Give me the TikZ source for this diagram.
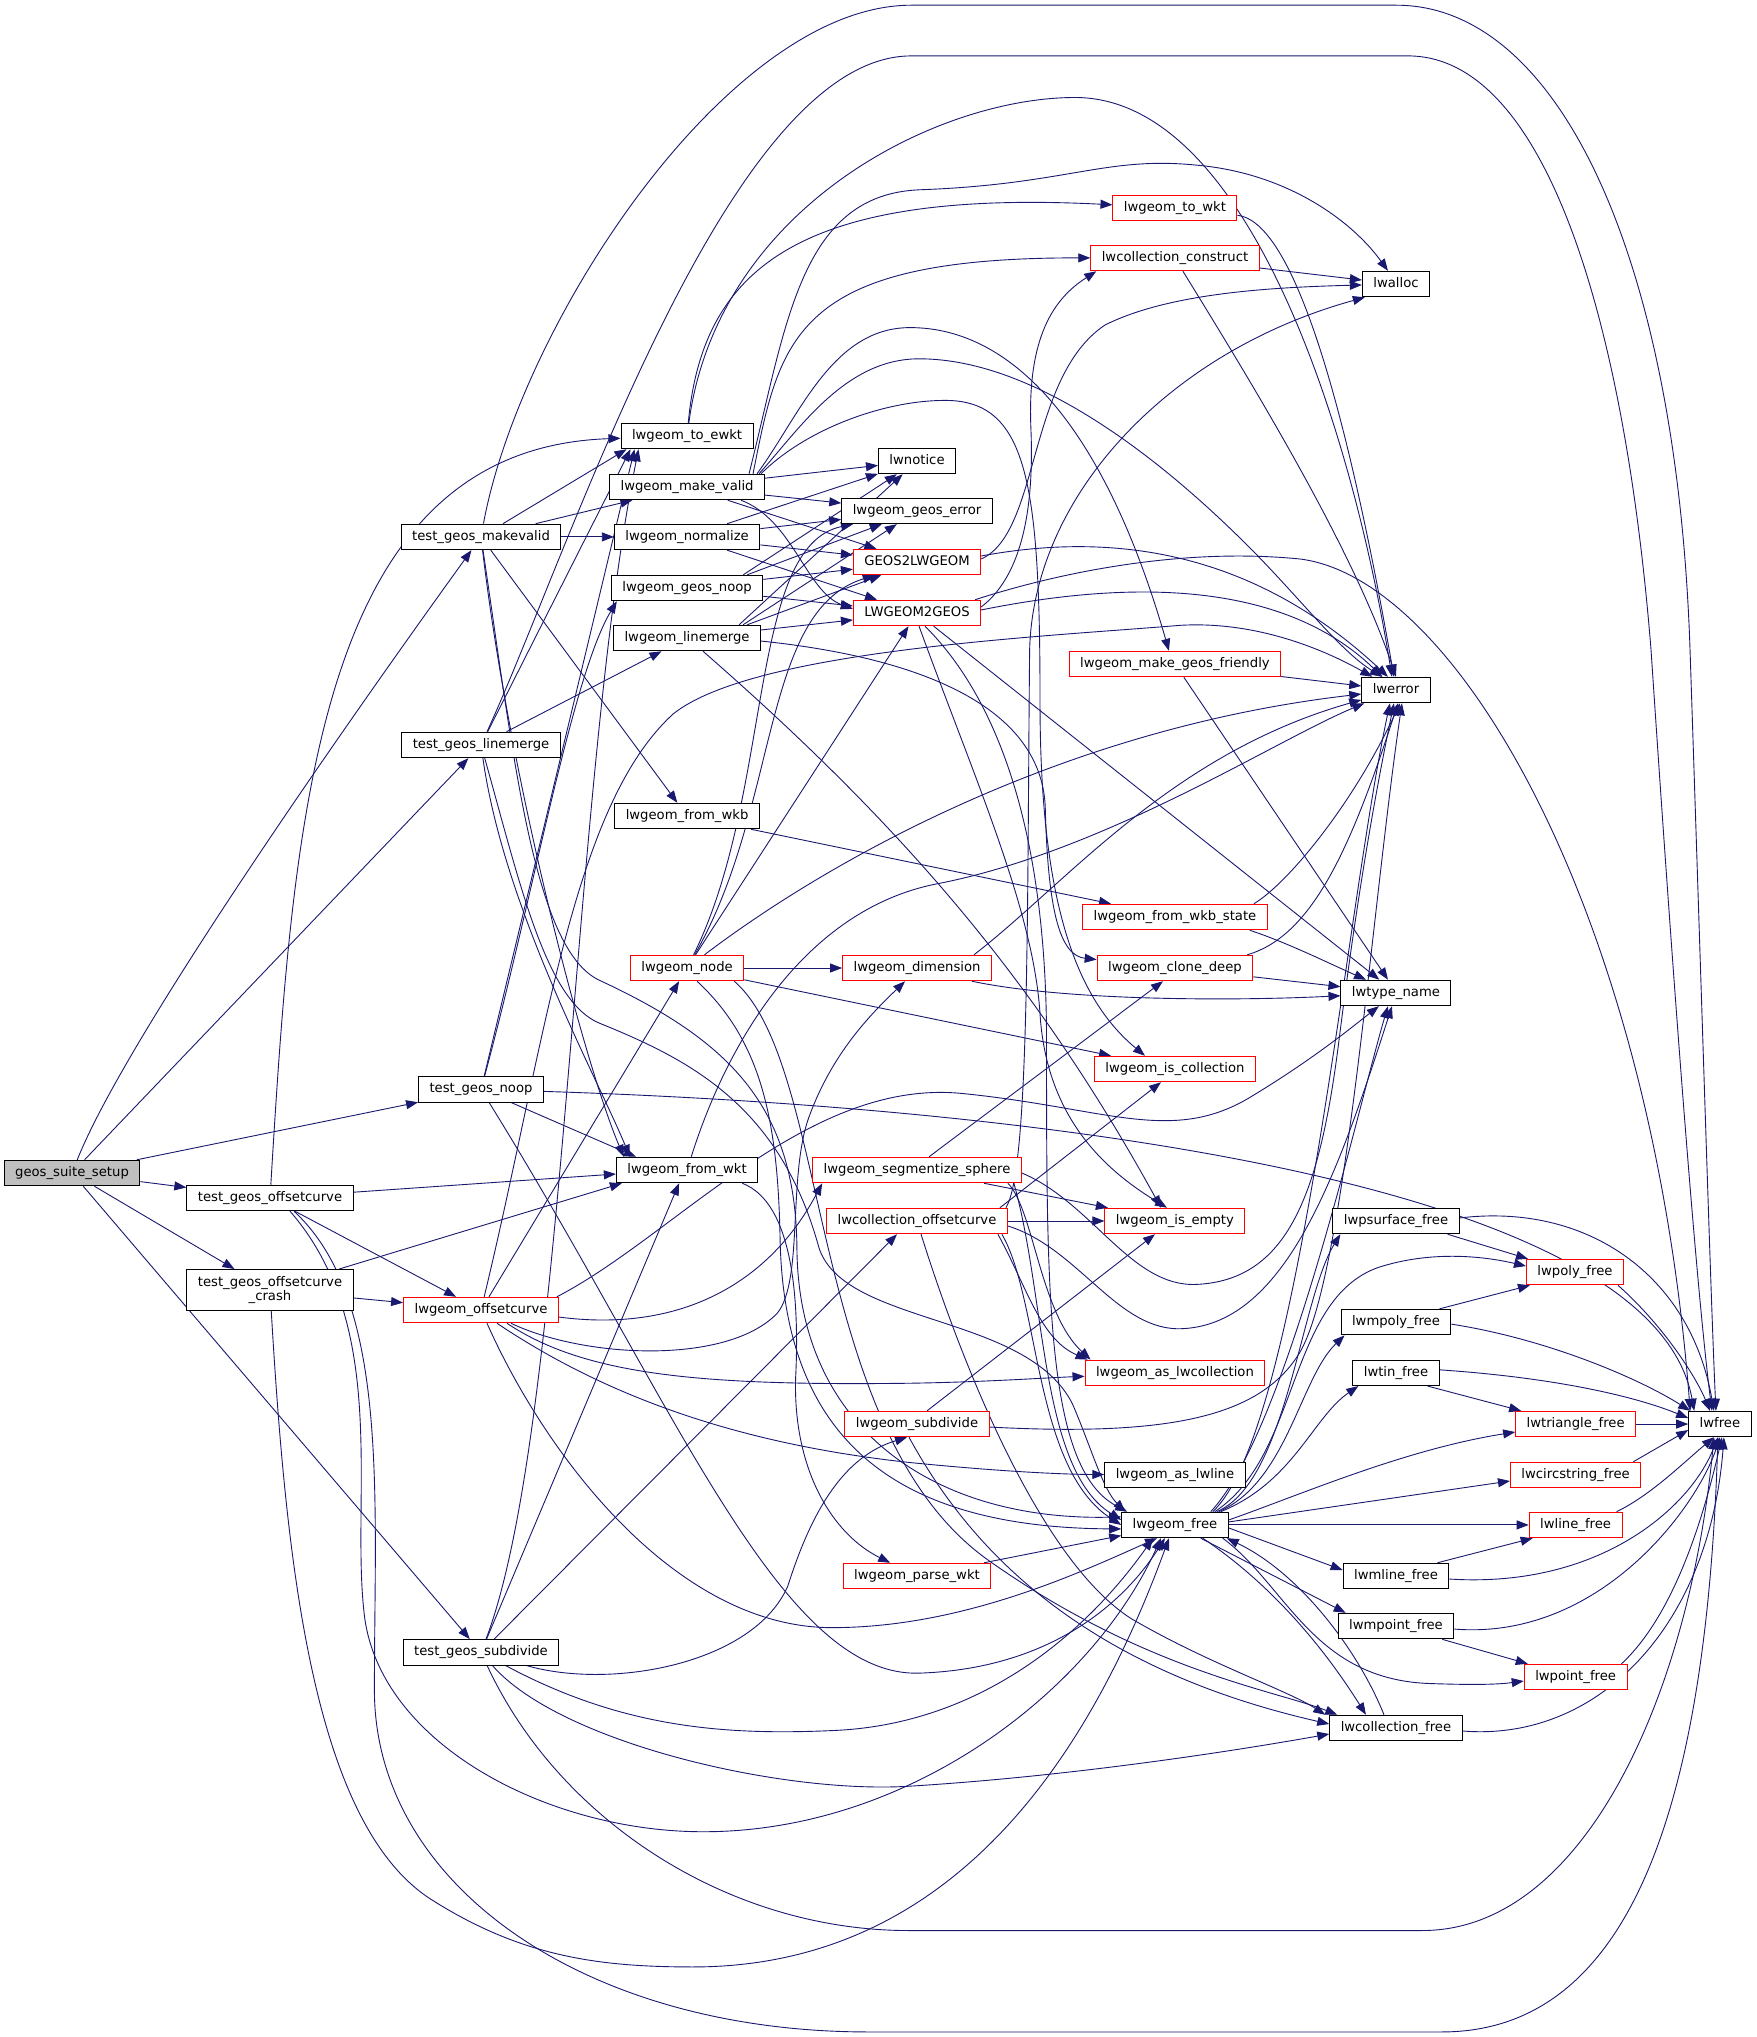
\documentclass[tikz,border=0pt]{standalone}
\usepackage{fontspec}
\setmainfont{DejaVu Sans}
\usetikzlibrary{arrows.meta}
\definecolor{edgecol}{HTML}{191970}
\definecolor{redb}{HTML}{FF0000}
\definecolor{grayfill}{HTML}{BFBFBF}
\pgfdeclarelayer{back}
\pgfdeclarelayer{edges}
\pgfsetlayers{back,edges,main}
\tikzset{
 nb/.style={draw=black, line width=1pt, fill=white, font=\fontsize{13.2}{15.8}\selectfont, inner xsep=11pt, inner ysep=0pt, minimum height=25.5pt, text height=10pt, text depth=3.2pt},
 rb/.style={nb, draw=redb},
 nbtwo/.style={draw=black, line width=1pt, fill=white, font=\fontsize{13.2}{14.5}\selectfont, inner xsep=11pt, inner ysep=3pt, minimum height=41pt, align=center},
 edg/.style={draw=edgecol, line width=0.9pt, -{Triangle[length=12pt,width=9pt]}},
}
\begin{document}
\begin{tikzpicture}[x=1.3pt,y=-1.3pt]
\useasboundingbox (0,0) rectangle (1351.5,1566.9);
\begin{pgfonlayer}{back}
\fill[white] (0,0) rectangle (1351.5,1566.9);
\end{pgfonlayer}
% nodes
\node[nb, fill=grayfill] (G) at (55.4,902.3) {geos\_suite\_setup};
\node[nb] (tmv) at (370,413) {test\_geos\_makevalid};
\node[nb] (tlm) at (370,573) {test\_geos\_linemerge};
\node[nb] (tnoop) at (370,838) {test\_geos\_noop};
\node[nb] (toc) at (207.7,921.5) {test\_geos\_offsetcurve};
\node[nbtwo] (tocc) at (207.7,992.3) {test\_geos\_offsetcurve\\\_crash};
\node[nb] (tsub) at (370,1271) {test\_geos\_subdivide};
\node[nb] (ewkt) at (528.5,335.4) {lwgeom\_to\_ewkt};
\node[nb] (mkvalid) at (528.5,374.6) {lwgeom\_make\_valid};
\node[nb] (normalize) at (528.5,413) {lwgeom\_normalize};
\node[nb] (geosnoop) at (528.5,452.3) {lwgeom\_geos\_noop};
\node[nb] (linemerge) at (528.5,490.8) {lwgeom\_linemerge};
\node[nb] (fromwkb) at (528.5,627.7) {lwgeom\_from\_wkb};
\node[rb] (node) at (528.5,744.6) {lwgeom\_node};
\node[nb] (fwkt) at (528.5,900) {lwgeom\_from\_wkt};
\node[rb] (loc) at (370,1007.7) {lwgeom\_offsetcurve};
\node[rb] (towkt) at (903.8,160) {lwgeom\_to\_wkt};
\node[rb] (lwcc) at (903.8,198.5) {lwcollection\_construct};
\node[nb] (lwalloc) at (1073.8,218.5) {lwalloc};
\node[nb] (lwnotice) at (705.4,354.6) {lwnotice};
\node[nb] (geoserr) at (705.4,393) {lwgeom\_geos\_error};
\node[rb] (g2l) at (705.4,432.3) {GEOS2LWGEOM};
\node[rb] (l2g) at (705.4,471.5) {LWGEOM2GEOS};
\node[rb] (msf) at (903.8,510.8) {lwgeom\_make\_geos\_friendly};
\node[nb] (lwerror) at (1073.8,530.8) {lwerror};
\node[rb] (fws) at (903.8,705.4) {lwgeom\_from\_wkb\_state};
\node[rb] (dim) at (705.4,744.6) {lwgeom\_dimension};
\node[rb] (clone) at (903.8,744.6) {lwgeom\_clone\_deep};
\node[nb] (lwtype) at (1073.8,763.8) {lwtype\_name};
\node[rb] (iscoll) at (903.8,822.3) {lwgeom\_is\_collection};
\node[rb] (segsph) at (705.4,900) {lwgeom\_segmentize\_sphere};
\node[rb] (lwco) at (705.4,939.2) {lwcollection\_offsetcurve};
\node[rb] (isempty) at (903.8,939.2) {lwgeom\_is\_empty};
\node[nb] (psurf) at (1073.8,939.2) {lwpsurface\_free};
\node[rb] (polyf) at (1211.5,978.5) {lwpoly\_free};
\node[nb] (mpoly) at (1073.8,1017) {lwmpoly\_free};
\node[rb] (aslwcoll) at (903.8,1056) {lwgeom\_as\_lwcollection};
\node[nb] (tin) at (1073.8,1056) {lwtin\_free};
\node[rb] (trif) at (1212,1095.4) {lwtriangle\_free};
\node[nb] (lwfree) at (1323,1095.4) {lwfree};
\node[rb] (subdiv) at (705.4,1095.4) {lwgeom\_subdivide};
\node[nb] (aslwline) at (903.8,1134.6) {lwgeom\_as\_lwline};
\node[rb] (circf) at (1212,1134.6) {lwcircstring\_free};
\node[nb] (lgfree) at (903.8,1173) {lwgeom\_free};
\node[rb] (linef) at (1212,1173) {lwline\_free};
\node[rb] (parse) at (705.4,1212.3) {lwgeom\_parse\_wkt};
\node[nb] (mlinef) at (1073.8,1212.3) {lwmline\_free};
\node[nb] (mpointf) at (1073.8,1250.8) {lwmpoint\_free};
\node[rb] (pointf) at (1212,1290) {lwpoint\_free};
\node[nb] (collf) at (1073.8,1329.2) {lwcollection\_free};

\begin{pgfonlayer}{edges}
% geos_suite_setup
\draw[edg] (G) .. controls (100,790) and (300,510) .. (tmv);
\draw[edg] (G) -- (tlm);
\draw[edg] (G) -- (tnoop);
\draw[edg] (G) -- (toc);
\draw[edg] (G) -- (tocc);
\draw[edg] (G) -- (tsub);
% test_geos_makevalid
\draw[edg] (tmv) -- ([xshift=6pt]ewkt.south west);
\draw[edg] (tmv) -- (mkvalid);
\draw[edg] (tmv) -- (normalize);
\draw[edg] (tmv) -- (fromwkb);
\draw[edg] (tmv) .. controls (400,250) and (560,4) .. (701,4) -- (1074,4) .. controls (1200,4) and (1290,200) .. (1300,500) .. controls (1310,800) and (1316,1000) .. ([xshift=-4pt]lwfree.north);
\draw[edg] (tmv) .. controls (392,600) and (450,820) .. ([xshift=8pt]fwkt.north west);
\draw[edg] (tmv) .. controls (395,580) and (410,730) .. (461,754) .. controls (560,800) and (612,850) .. (613,960) .. controls (614,1100) and (720,1170) .. ([yshift=8pt]lgfree.west);
% test_geos_linemerge
\draw[edg] (tlm) -- ([xshift=10pt]ewkt.south west);
\draw[edg] (tlm) -- (linemerge);
\draw[edg] (tlm) .. controls (440,420) and (560,43) .. (701,43) -- (1083,43) .. controls (1190,43) and (1250,250) .. (1270,500) .. controls (1290,800) and (1306,1000) .. ([xshift=-8pt]lwfree.north);
\draw[edg] (tlm) .. controls (388,700) and (460,830) .. ([xshift=14pt]fwkt.north west);
\draw[edg] (tlm) .. controls (400,680) and (420,770) .. (461,787) .. controls (530,815) and (600,850) .. (630,960) .. controls (650,1020) and (790,1010) .. (825,1080) .. controls (840,1115) and (848,1145) .. ([xshift=4pt]lgfree.north west);
% test_geos_noop
\draw[edg] (tnoop) -- ([xshift=14pt]ewkt.south west);
\draw[edg] (tnoop) .. controls (410,690) and (440,520) .. ([xshift=6pt]geosnoop.south west);
\draw[edg] (tnoop) -- ([xshift=20pt]fwkt.north west);
\draw[edg] (tnoop) .. controls (520,1080) and (600,1290) .. (707,1287) .. controls (800,1284) and (860,1240) .. ([xshift=-10pt]lgfree.south);
\draw[edg] (tnoop) .. controls (750,850) and (1270,900) .. ([xshift=6pt]lwfree.north west);
% test_geos_offsetcurve
\draw[edg] (toc) .. controls (226,620) and (245,345) .. (ewkt);
\draw[edg] (toc) -- ([yshift=-4pt]fwkt.west);
\draw[edg] (toc) -- (loc);
\draw[edg] ([xshift=20pt]toc.south) .. controls (300,1020) and (270,1150) .. (280,1240) .. controls (290,1340) and (420,1409) .. (541,1409) .. controls (700,1409) and (840,1300) .. ([xshift=-14pt]lgfree.south);
\draw[edg] ([xshift=24pt]toc.south) .. controls (300,1000) and (288,1150) .. (288,1300) .. controls (288,1450) and (450,1563) .. (668,1563) -- (1109,1563) .. controls (1250,1563) and (1312,1400) .. ([xshift=-2pt]lwfree.south);
% test_geos_offsetcurve_crash
\draw[edg] (tocc) -- ([xshift=6pt]fwkt.south west);
\draw[edg] (tocc) -- (loc);
\draw[edg] (tocc) .. controls (220,1200) and (240,1400) .. (330,1460) .. controls (400,1505) and (460,1513) .. (533,1513) .. controls (700,1513) and (820,1400) .. ([xshift=-6pt]lgfree.south);
% test_geos_subdivide
\draw[edg] (tsub) .. controls (435,1100) and (440,600) .. ([xshift=18pt]ewkt.south west);
\draw[edg] (tsub) -- ([xshift=-8pt]fwkt.south);
\draw[edg] (tsub) -- ([xshift=-20pt]lwco.south);
\draw[edg] (tsub) .. controls (470,1300) and (580,1280) .. (606,1220) .. controls (625,1160) and (650,1120) .. ([xshift=-10pt]subdiv.south);
\draw[edg] (tsub) .. controls (480,1330) and (560,1335) .. (644,1331) .. controls (760,1325) and (840,1250) .. ([xshift=-22pt]lgfree.south);
\draw[edg] (tsub) .. controls (430,1340) and (600,1380) .. (699,1374) .. controls (830,1366) and (960,1345) .. ([yshift=-6pt]collf.west);
\draw[edg] (tsub) .. controls (430,1400) and (560,1485) .. (699,1485) -- (1094,1485) .. controls (1220,1485) and (1300,1300) .. ([xshift=-6pt]lwfree.south);
% lwgeom_to_ewkt, to_wkt, collection_construct
\draw[edg] (ewkt) .. controls (540,210) and (610,145) .. (towkt);
\draw[edg] (ewkt) .. controls (552,160) and (720,75) .. (827,75) .. controls (960,75) and (1040,330) .. ([xshift=-4pt]lwerror.north);
\draw[edg] (towkt) .. controls (990,170) and (1030,280) .. ([xshift=-2pt]lwerror.north);
\draw[edg] (lwcc) -- (lwalloc);
\draw[edg] ([xshift=8pt]lwcc.south) .. controls (960,290) and (1040,420) .. (lwerror.north);
% lwgeom_make_valid
\draw[edg] (mkvalid) -- (lwnotice);
\draw[edg] (mkvalid) -- (geoserr);
\draw[edg] (mkvalid) -- (g2l);
\draw[edg] ([xshift=-24pt]mkvalid.south east) .. controls (610,400) and (620,455) .. ([yshift=4pt]l2g.west);
\draw[edg] ([xshift=-8pt]mkvalid.north east) .. controls (615,320) and (640,252) .. (700,252) .. controls (780,252) and (850,330) .. ([xshift=-6pt]msf.north);
\draw[edg] ([xshift=-6pt]mkvalid.north east) .. controls (615,330) and (650,276) .. (707,276) .. controls (800,276) and (900,360) .. (960,420) .. controls (1000,460) and (1030,500) .. ([xshift=-14pt]lwerror.north);
\draw[edg] ([xshift=-4pt]mkvalid.north east) .. controls (620,330) and (680,308) .. (727,308) .. controls (790,308) and (800,370) .. (800,540) .. controls (800,700) and (830,770) .. ([xshift=-30pt]iscoll.north);
\draw[edg] ([xshift=-12pt]mkvalid.north east) .. controls (600,260) and (610,198) .. (lwcc);
\draw[edg] ([xshift=-16pt]mkvalid.north east) .. controls (605,250) and (615,150) .. (707,146) .. controls (820,142) and (850,120) .. (920,127) .. controls (990,133) and (1040,170) .. ([xshift=-8pt]lwalloc.north);
% lwgeom_normalize
\draw[edg] (normalize) -- (lwnotice);
\draw[edg] (normalize) -- (geoserr);
\draw[edg] (normalize) -- (g2l);
\draw[edg] (normalize) -- (l2g);
% lwgeom_geos_noop
\draw[edg] ([xshift=-20pt]geosnoop.north east) -- (lwnotice);
\draw[edg] ([xshift=-16pt]geosnoop.north east) -- (geoserr);
\draw[edg] (geosnoop) -- (g2l);
\draw[edg] (geosnoop) -- (l2g);
% lwgeom_linemerge
\draw[edg] ([xshift=-22pt]linemerge.north east) -- (lwnotice);
\draw[edg] ([xshift=-18pt]linemerge.north east) -- (geoserr);
\draw[edg] ([xshift=-14pt]linemerge.north east) -- (g2l);
\draw[edg] (linemerge) -- (l2g);
\draw[edg] ([xshift=16pt]linemerge.south) .. controls (700,640) and (800,760) .. ([xshift=-14pt]isempty.north);
\draw[edg] ([yshift=-3pt]linemerge.east) .. controls (700,505) and (800,540) .. (804,620) .. controls (806,700) and (815,735) .. (clone);
% lwgeom_from_wkb
\draw[edg] (fromwkb) -- (fws);
% lwgeom_node
\draw[edg] (node) -- (dim);
\draw[edg] (node) -- (l2g);
\draw[edg] (node) .. controls (600,620) and (585,470) .. (g2l);
\draw[edg] (node) .. controls (595,610) and (575,420) .. (geoserr);
\draw[edg] (node) .. controls (640,660) and (820,560) .. (lwerror);
\draw[edg] (node) -- (iscoll);
\draw[edg] ([xshift=10pt]node.south) .. controls (585,800) and (598,860) .. (600,950) .. controls (602,1100) and (680,1175) .. ([yshift=-4pt]lgfree.west);
\draw[edg] ([xshift=-10pt]node.south east) .. controls (640,820) and (620,1100) .. (760,1200) .. controls (880,1285) and (980,1300) .. ([xshift=8pt]collf.north west);
% lwgeom_from_wkt
\draw[edg] ([xshift=-16pt]fwkt.south east) .. controls (610,925) and (615,1000) .. (612,1060) .. controls (610,1130) and (640,1180) .. (parse);
\draw[edg] (fwkt) .. controls (560,800) and (620,700) .. (720,680) .. controls (850,655) and (980,570) .. (lwerror);
\draw[edg] (parse) -- (lgfree);
% lwgeom_offsetcurve
\draw[edg] (loc) -- (node);
\draw[edg] ([xshift=30pt]loc.south) .. controls (450,1045) and (560,1050) .. (598,1010) .. controls (618,985) and (606,905) .. (622,860) .. controls (640,810) and (670,780) .. ([xshift=-12pt]dim.south);
\draw[edg] (loc) .. controls (420,800) and (440,620) .. (518,549) .. controls (580,500) and (800,490) .. (908,481) .. controls (960,478) and (1010,495) .. (lwerror);
\draw[edg] ([xshift=-2pt]loc.north east) .. controls (520,950) and (620,830) .. (739,841) .. controls (850,852) and (900,880) .. (960,845) .. controls (1010,815) and (1040,790) .. (lwtype);
\draw[edg] ([yshift=-7pt]loc.east) .. controls (520,1025) and (590,990) .. ([xshift=10pt]segsph.south west);
\draw[edg] ([xshift=26pt]loc.south) .. controls (450,1058) and (540,1066) .. (700,1064) .. controls (760,1063) and (800,1060) .. (aslwcoll);
\draw[edg] ([xshift=16pt]loc.south) .. controls (460,1070) and (560,1110) .. (700,1125) .. controls (760,1131) and (810,1134) .. (aslwline);
\draw[edg] ([xshift=6pt]loc.south) .. controls (420,1120) and (520,1252) .. (640,1252) .. controls (740,1252) and (830,1210) .. ([xshift=-18pt]lgfree.south);
% GEOS2LWGEOM / LWGEOM2GEOS
\draw[edg] ([yshift=3pt]g2l.east) .. controls (800,410) and (790,290) .. (850,250) .. controls (900,225) and (980,221) .. (lwalloc);
\draw[edg] ([yshift=6pt]g2l.east) .. controls (850,410) and (960,420) .. ([xshift=-8pt]lwerror.north);
\draw[edg] ([yshift=6pt]l2g.east) .. controls (790,440) and (795,380) .. (793,330) .. controls (790,260) and (810,230) .. ([xshift=6pt]lwcc.south west);
\draw[edg] ([yshift=3pt]l2g.east) .. controls (850,450) and (980,440) .. (lwerror);
\draw[edg] ([xshift=-6pt]l2g.north east) .. controls (800,445) and (900,420) .. (1000,430) .. controls (1120,445) and (1270,700) .. ([xshift=2pt]lwfree.north west);
\draw[edg] (l2g) -- (lwtype);
\draw[edg] ([xshift=2pt]l2g.south) .. controls (750,600) and (795,700) .. (800,780) .. controls (805,860) and (850,900) .. ([xshift=-8pt]isempty.north);
\draw[edg] ([xshift=8pt]l2g.south) .. controls (790,560) and (805,700) .. (805,800) .. controls (805,1000) and (805,1130) .. ([xshift=6pt]lgfree.north west);
% make_geos_friendly, from_wkb_state, dimension, clone_deep
\draw[edg] (msf) -- (lwerror);
\draw[edg] (msf) -- ([xshift=-8pt]lwtype.north);
\draw[edg] ([xshift=-14pt]fws.north east) .. controls (990,680) and (1040,620) .. ([xshift=4pt]lwerror.south);
\draw[edg] ([xshift=-18pt]fws.south east) .. controls (990,725) and (1020,740) .. (lwtype);
\draw[edg] ([xshift=-18pt]dim.north east) .. controls (820,680) and (900,580) .. (lwerror);
\draw[edg] ([xshift=-20pt]dim.south east) .. controls (820,770) and (950,770) .. (lwtype);
\draw[edg] ([xshift=-6pt]clone.north east) .. controls (1010,720) and (1040,650) .. ([xshift=2pt]lwerror.south);
\draw[edg] (clone) -- (lwtype);
% segmentize_sphere
\draw[edg] ([xshift=12pt]segsph.north) -- ([xshift=-12pt]clone.south);
\draw[edg] (segsph) -- (isempty);
\draw[edg] ([xshift=-14pt]segsph.south east) .. controls (795,930) and (800,1010) .. ([xshift=6pt]aslwcoll.north west);
\draw[edg] ([xshift=-8pt]segsph.south east) .. controls (805,1000) and (800,1130) .. ([yshift=5pt]lgfree.west);
\draw[edg] ([yshift=-3pt]segsph.east) .. controls (840,925) and (870,990) .. (920,988) .. controls (990,985) and (1015,920) .. (1030,800) .. controls (1045,680) and (1060,600) .. ([xshift=-2pt]lwerror.south);
% lwcollection_offsetcurve
\draw[edg] (lwco) -- (isempty);
\draw[edg] ([xshift=-8pt]lwco.north east) -- ([xshift=-14pt]iscoll.south);
\draw[edg] ([xshift=-10pt]lwco.south east) .. controls (790,990) and (800,1030) .. ([xshift=3pt]aslwcoll.north west);
\draw[edg] ([xshift=-6pt]lwco.south east) .. controls (800,1000) and (795,1130) .. (lgfree.west);
\draw[edg] ([xshift=4pt]lwco.south) .. controls (740,1050) and (800,1200) .. (870,1245) .. controls (930,1280) and (990,1300) .. ([xshift=-4pt]collf.north west);
\draw[edg] ([yshift=-5pt]lwco.east) .. controls (830,960) and (860,1025) .. (910,1022) .. controls (990,1018) and (1030,900) .. ([xshift=-4pt]lwtype.south);
\draw[edg] ([xshift=-2pt]lwco.north east) .. controls (792,900) and (790,700) .. (792,500) .. controls (795,380) and (900,270) .. ([xshift=3pt]lwalloc.south west);
% lwgeom_subdivide
\draw[edg] ([xshift=10pt]subdiv.north) -- ([xshift=-20pt]isempty.south);
\draw[edg] ([xshift=-8pt]subdiv.south) .. controls (740,1180) and (820,1280) .. ([yshift=4pt]collf.west);
\draw[edg] ([yshift=-3pt]subdiv.east) .. controls (900,1105) and (970,1090) .. (1000,1040) .. controls (1035,980) and (1055,700) .. ([xshift=6pt]lwerror.south);
% lwgeom_free
\draw[edg] ([xshift=-12pt]lgfree.north east) .. controls (990,1140) and (1000,1000) .. ([xshift=8pt]psurf.south west);
\draw[edg] ([xshift=-10pt]lgfree.north east) .. controls (990,1140) and (1000,1060) .. ([xshift=4pt]mpoly.south west);
\draw[edg] ([xshift=-8pt]lgfree.north east) .. controls (995,1140) and (1010,1090) .. ([xshift=6pt]tin.south west);
\draw[edg] ([xshift=-14pt]lgfree.north east) .. controls (1000,1120) and (990,1000) .. (1060,975) .. controls (1100,962) and (1140,966) .. ([yshift=6pt]polyf.west);
\draw[edg] ([yshift=5pt]lgfree.east) .. controls (1000,1150) and (1080,1115) .. ([yshift=-8pt]trif.west);
\draw[edg] ([yshift=3pt]lgfree.east) -- ([yshift=-6pt]circf.west);
\draw[edg] (lgfree) -- (linef);
\draw[edg] ([yshift=-3pt]lgfree.east) -- ([yshift=6pt]mlinef.west);
\draw[edg] (lgfree) -- ([xshift=8pt]mpointf.north west);
\draw[edg] ([xshift=-6pt]lgfree.south east) .. controls (990,1220) and (1010,1292) .. (1100,1295) .. controls (1130,1296) and (1150,1296) .. ([yshift=-4pt]pointf.west);
\draw[edg] ([xshift=-26pt]lgfree.south east) .. controls (980,1220) and (1020,1270) .. ([xshift=-30pt]collf.north);
\draw[edg] ([xshift=-16pt]lgfree.north east) .. controls (1000,1100) and (1035,700) .. ([xshift=-6pt]lwerror.south);
\draw[edg] ([xshift=-18pt]lgfree.north east) .. controls (990,1100) and (1045,850) .. ([xshift=-8pt]lwtype.south);
\draw[edg] ([xshift=-12pt]collf.north) .. controls (1045,1270) and (1000,1210) .. ([xshift=-2pt]lgfree.south east);
% free functions
\draw[edg] ([xshift=-12pt]psurf.south east) -- ([xshift=2pt]polyf.north west);
\draw[edg] ([yshift=3pt]psurf.east) .. controls (1220,925) and (1300,980) .. ([xshift=-6pt]lwfree.north);
\draw[edg] ([xshift=-12pt]mpoly.north east) -- ([xshift=4pt]polyf.south west);
\draw[edg] ([yshift=-2pt]mpoly.east) .. controls (1190,1030) and (1260,1060) .. ([xshift=2pt]lwfree.north west);
\draw[edg] ([xshift=-12pt]tin.south east) -- ([xshift=6pt]trif.north west);
\draw[edg] ([yshift=3pt]tin.east) .. controls (1200,1060) and (1260,1075) .. ([yshift=6pt]lwfree.west);
\draw[edg] (trif) -- (lwfree);
\draw[edg] ([xshift=-8pt]circf.north east) -- ([yshift=-6pt]lwfree.west);
\draw[edg] ([xshift=-6pt]linef.north east) .. controls (1270,1150) and (1295,1125) .. ([xshift=-6pt]lwfree.south);
\draw[edg] ([xshift=-12pt]mlinef.north east) -- ([xshift=4pt]linef.south west);
\draw[edg] ([yshift=-3pt]mlinef.east) .. controls (1230,1222) and (1300,1160) .. ([xshift=-2pt]lwfree.south);
\draw[edg] ([xshift=-12pt]mpointf.south east) -- ([xshift=4pt]pointf.north west);
\draw[edg] ([yshift=-3pt]mpointf.east) .. controls (1230,1262) and (1305,1160) .. (lwfree.south);
\draw[edg] ([xshift=-6pt]pointf.north east) .. controls (1290,1240) and (1312,1160) .. ([xshift=2pt]lwfree.south);
\draw[edg] ([yshift=-3pt]collf.east) .. controls (1230,1340) and (1315,1250) .. ([xshift=4pt]lwfree.south);
\draw[edg] ([xshift=-6pt]polyf.south east) .. controls (1280,1020) and (1305,1060) .. ([xshift=-10pt]lwfree.north);
\end{pgfonlayer}
\end{tikzpicture}
\end{document}
